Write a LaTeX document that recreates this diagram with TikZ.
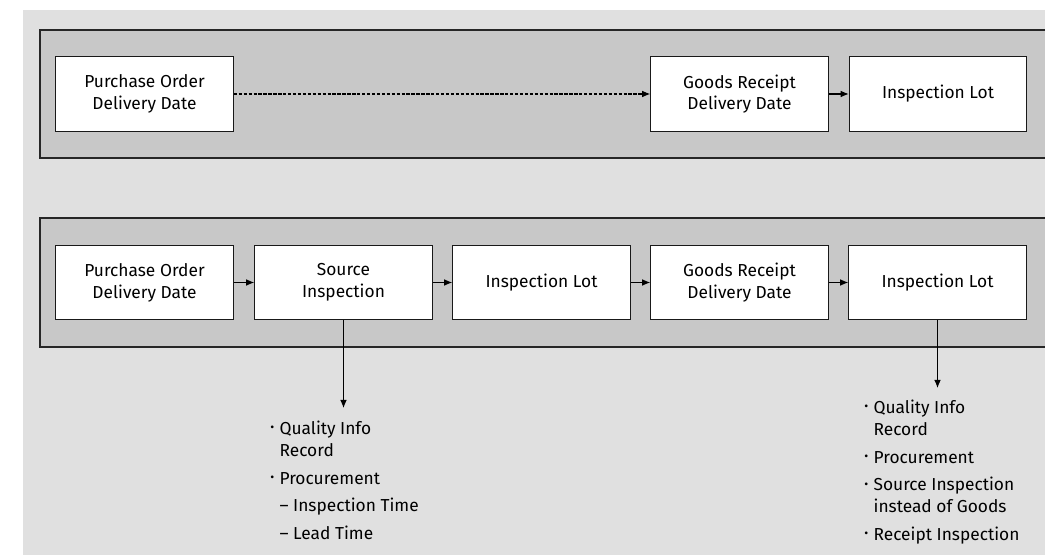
\documentclass[tikz,border=0pt]{standalone}
\usepackage{fontspec}
\setmainfont{Fira Sans}
\usetikzlibrary{arrows.meta}
\definecolor{pagegray}{RGB}{224,224,224}
\definecolor{bandgray}{RGB}{200,200,200}
\newcommand{\bul}{\raisebox{0.15em}{\scalebox{0.7}{\textbullet}}}
\tikzset{
  band/.style={draw=black!85, line width=0.8pt, fill=bandgray},
  stepbox/.style={draw=black!90, line width=0.9pt, fill=white, minimum width=133pt,
    minimum height=56pt, align=center, inner sep=2pt, font=\fontsize{13}{16.3}\selectfont},
  flow/.style={-{Latex[length=6pt,width=5pt]}, line width=0.8pt},
  dashflow/.style={flow, dash pattern=on 2.5pt off 1.2pt},
  notes/.style={align=left, inner sep=0pt, font=\fontsize{13}{16.3}\selectfont}
}
\begin{document}
\begin{tikzpicture}[x=0.75pt, y=-0.75pt]
\useasboundingbox (0,0) rectangle (1045,555);
\fill[pagegray] (23,10) rectangle (1045,555);

% upper process: direct goods receipt
\draw[band] (40,30) rectangle (1060,158);
\node[stepbox] (po1) at (144.5,94) {Purchase Order\\Delivery Date};
\node[stepbox] (gr1) at (739.5,94) {Goods Receipt\\Delivery Date};
\node[stepbox] (il1) at (938,94) {Inspection Lot};
\draw[dashflow] (po1) -- (gr1);
\draw[flow] (gr1) -- (il1);

% lower process: with source inspection
\draw[band] (40,218) rectangle (1060,347);
\node[stepbox] (po2) at (144.5,282.5) {Purchase Order\\Delivery Date};
\node[stepbox] (src) at (343.5,282.5) {Source\\Inspection};
\node[stepbox] (il2) at (541.5,282.5) {Inspection Lot};
\node[stepbox] (gr2) at (739.5,282.5) {Goods Receipt\\Delivery Date};
\node[stepbox] (il3) at (937.5,282.5) {Inspection Lot};
\draw[flow] (po2) -- (src);
\draw[flow] (src) -- (il2);
\draw[flow] (il2) -- (gr2);
\draw[flow] (gr2) -- (il3);

% notes below the inspection steps
\coordinate (srcend) at (343.5,408);
\coordinate (ilend) at (937.5,388);
\draw[flow] (src.south) -- (srcend);
\draw[flow] (il3.south) -- (ilend);

\node[notes, anchor=north west] (srcnotes) at (270,419) {%
\begin{tabular}{@{}p{7pt}@{}l@{}}
\bul & Quality Info\\
     & Record\\[4.6pt]
\bul & Procurement\\[4.6pt]
     & \textendash\ Inspection Time\\[4.6pt]
     & \textendash\ Lead Time
\end{tabular}};

\node[notes, anchor=north west] (ilnotes) at (864,398) {%
\begin{tabular}{@{}p{7pt}@{}l@{}}
\bul & Quality Info\\
     & Record\\[4.6pt]
\bul & Procurement\\[4.6pt]
\bul & Source Inspection\\
     & instead of Goods\\[4.6pt]
\bul & Receipt Inspection
\end{tabular}};
\end{tikzpicture}
\end{document}
